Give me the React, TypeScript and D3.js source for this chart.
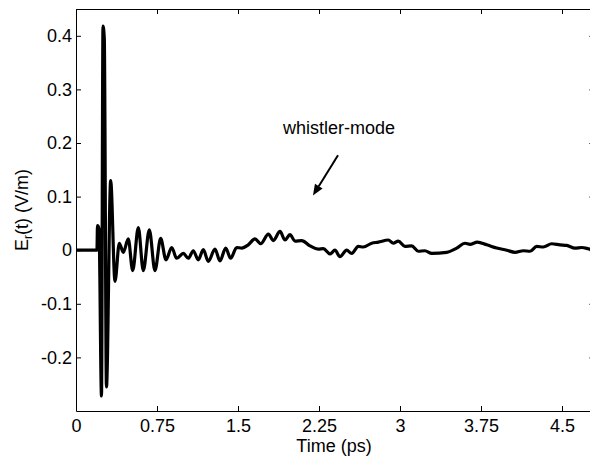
import React, { useRef, useEffect } from "react";
import * as d3 from "d3";

// time (ps) and radial field E_r (V/m)
const time = [
  0, 0.194, 0.199, 0.213, 0.236, 0.25, 0.262, 0.282, 0.321, 0.361,
  0.401, 0.438, 0.484, 0.525, 0.577, 0.623, 0.679, 0.731, 0.784, 0.833,
  0.886, 0.932, 0.994, 1.04, 1.086, 1.132, 1.179, 1.225, 1.287, 1.333,
  1.386, 1.432, 1.488, 1.534, 1.595, 1.657, 1.71, 1.781, 1.827, 1.889,
  1.935, 1.981, 2.028, 2.09, 2.167, 2.243, 2.29, 2.352, 2.398, 2.444,
  2.506, 2.553, 2.614, 2.66, 2.738, 2.799, 2.892, 2.938, 2.984, 3.046,
  3.108, 3.169, 3.231, 3.294, 3.432, 3.525, 3.602, 3.648, 3.716, 3.803,
  3.895, 3.988, 4.065, 4.142, 4.204, 4.266, 4.327, 4.405, 4.481, 4.544,
  4.62, 4.682, 4.76, 4.8,
];
const field = [
  0, 0, 0.046, 0.04, -0.272, 0.418, 0.395, -0.255, 0.13, -0.058,
  0.013, -0.004, 0.021, -0.038, 0.042, -0.038, 0.038, -0.038, 0.022, -0.018,
  0.005, -0.015, -0.006, -0.015, -0.001, -0.018, 0.001, -0.021, 0.002, -0.02,
  0.004, -0.015, 0.005, 0.004, 0.01, 0.021, 0.012, 0.03, 0.018, 0.035,
  0.019, 0.029, 0.017, 0.018, 0.008, 0.002, 0.003, -0.007, 0.0, -0.012,
  0.0, -0.006, 0.007, 0.006, 0.013, 0.015, 0.019, 0.013, 0.017, 0.007,
  0.008, -0.002, -0.001, -0.006, -0.004, 0.004, 0.013, 0.011, 0.015, 0.01,
  0.004, 0.0, -0.004, -0.001, -0.002, 0.007, 0.006, 0.012, 0.01, 0.009,
  0.004, 0.005, 0.002, 0.001,
];

const xTicks = [0, 0.75, 1.5, 2.25, 3, 3.75, 4.5];
const xTickLabels = ["0", "0.75", "1.5", "2.25", "3", "3.75", "4.5"];
const yTicks = [-0.2, -0.1, 0, 0.1, 0.2, 0.3, 0.4];
const yTickLabels = ["-0.2", "-0.1", "0", "0.1", "0.2", "0.3", "0.4"];

// annotation: text anchor and arrow (data coords)
const noteText = "whistler-mode";
const notePos = [2.435, 0.216];
const arrowFrom = [2.426, 0.177];
const arrowTo = [2.194, 0.102];

const FONT = "'Liberation Sans', Arial, sans-serif";

export default function App() {
  const svgRef = useRef<SVGSVGElement>(null);

  useEffect(() => {
    const svg = d3.select(svgRef.current);
    svg.selectAll("*").remove();

    const left = 76;
    const top = 9;
    const bottom = 411;

    const x = d3.scaleLinear().domain([0, 4.8]).range([left, left + 4.8 * 108]);
    const y = d3.scaleLinear().domain([-0.3, 0.45]).range([bottom, top]);

    svg.append("rect").attr("width", 590).attr("height", 457).attr("fill", "#fff");

    const fmt = (labels: string[], ticks: number[]) => (d: any) =>
      labels[ticks.indexOf(d)];

    // bottom axis
    svg
      .append("g")
      .attr("transform", `translate(0, ${bottom})`)
      .call(
        d3
          .axisBottom(x)
          .tickValues(xTicks)
          .tickFormat(fmt(xTickLabels, xTicks))
          .tickSizeInner(-5)
          .tickSizeOuter(0)
          .tickPadding(8)
      );

    // top axis
    svg
      .append("g")
      .attr("transform", `translate(0, ${top})`)
      .call(
        d3.axisTop(x).tickValues(xTicks).tickFormat(() => "").tickSizeInner(-5).tickSizeOuter(0)
      );

    // left axis
    svg
      .append("g")
      .attr("transform", `translate(${left}, 0)`)
      .call(
        d3
          .axisLeft(y)
          .tickValues(yTicks)
          .tickFormat(fmt(yTickLabels, yTicks))
          .tickSizeInner(-5)
          .tickSizeOuter(0)
          .tickPadding(4)
      );

    // right axis
    svg
      .append("g")
      .attr("transform", `translate(${x(4.8)}, 0)`)
      .call(
        d3.axisRight(y).tickValues(yTicks).tickFormat(() => "").tickSizeInner(-5).tickSizeOuter(0)
      );

    svg
      .selectAll(".tick text")
      .attr("font-family", FONT)
      .attr("font-size", 18)
      .attr("fill", "#000");
    svg.selectAll(".domain, .tick line").attr("stroke", "#000");

    // signal
    const line = d3
      .line<number>()
      .x((_, i) => x(time[i]))
      .y((d) => y(d))
      .curve(d3.curveMonotoneX);

    svg
      .append("path")
      .datum(field)
      .attr("d", line)
      .attr("fill", "none")
      .attr("stroke", "#000")
      .attr("stroke-width", 3.2)
      .attr("stroke-linejoin", "round");

    // annotation
    svg
      .append("text")
      .attr("x", x(notePos[0]))
      .attr("y", y(notePos[1]))
      .attr("text-anchor", "middle")
      .attr("font-family", FONT)
      .attr("font-size", 18)
      .text(noteText);

    const x1 = x(arrowFrom[0]), y1 = y(arrowFrom[1]);
    const x2 = x(arrowTo[0]), y2 = y(arrowTo[1]);
    const ang = Math.atan2(y2 - y1, x2 - x1);
    const hl = 11, hw = 4.5;
    const bx = x2 - hl * Math.cos(ang), by = y2 - hl * Math.sin(ang);
    svg
      .append("line")
      .attr("x1", x1)
      .attr("y1", y1)
      .attr("x2", bx)
      .attr("y2", by)
      .attr("stroke", "#000")
      .attr("stroke-width", 2);
    svg
      .append("path")
      .attr(
        "d",
        `M${x2},${y2}L${bx + hw * Math.sin(ang)},${by - hw * Math.cos(ang)}L${bx - hw * Math.sin(ang)},${by + hw * Math.cos(ang)}Z`
      )
      .attr("fill", "#000");

    // axis titles
    svg
      .append("text")
      .attr("x", 334)
      .attr("y", 452)
      .attr("text-anchor", "middle")
      .attr("font-family", FONT)
      .attr("font-size", 18)
      .text("Time (ps)");

    const yl = svg
      .append("text")
      .attr("transform", `translate(28, ${(top + bottom) / 2}) rotate(-90)`)
      .attr("text-anchor", "middle")
      .attr("font-family", FONT)
      .attr("font-size", 18);
    yl.append("tspan").text("E");
    yl.append("tspan").attr("font-size", 12).attr("dy", 4).text("r");
    yl.append("tspan").attr("dy", -4).text("(t) (V/m)");
  }, []);

  return (
    <svg
      ref={svgRef}
      width={590}
      height={457}
      style={{ position: "absolute", left: 0, top: 0 }}
    />
  );
}
